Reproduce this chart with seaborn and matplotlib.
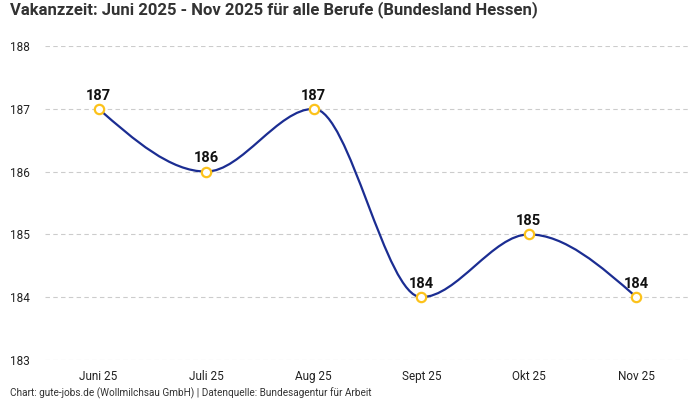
import numpy as np
import pandas as pd
import matplotlib
matplotlib.use("Agg")
import matplotlib.pyplot as plt
from matplotlib.path import Path
from matplotlib.patches import PathPatch
import seaborn as sns

months = ["Juni 25", "Juli 25", "Aug 25", "Sept 25", "Okt 25", "Nov 25"]
values = [187, 186, 187, 184, 185, 184]
yticks = [183, 184, 185, 186, 187, 188]
title = "Vakanzzeit: Juni 2025 - Nov 2025 für alle Berufe (Bundesland Hessen)"
footer = "Chart: gute-jobs.de (Wollmilchsau GmbH) | Datenquelle: Bundesagentur für Arbeit"

sns.set_theme(style="white")
plt.rcParams['font.family'] = ['Roboto', 'DejaVu Sans']

LINE = "#1b2d92"
GOLD = "#fcc21b"

df = pd.DataFrame({"x": np.arange(len(months)), "month": months, "value": values})

fig = plt.figure(figsize=(7, 4), dpi=100)
ax = fig.add_axes([0.064, 0.10, 0.922, 0.785])

# monotone cubic (d3 monotoneX) tangents
xs = df["x"].to_numpy(float)
ys = df["value"].to_numpy(float)
n = len(xs)
t = np.zeros(n)
for i in range(1, n - 1):
    h0 = xs[i] - xs[i - 1]; h1 = xs[i + 1] - xs[i]
    s0 = (ys[i] - ys[i - 1]) / h0; s1 = (ys[i + 1] - ys[i]) / h1
    p = (s0 * h1 + s1 * h0) / (h0 + h1)
    t[i] = (np.sign(s0) + np.sign(s1)) * min(abs(s0), abs(s1), 0.5 * abs(p))
t[0] = (3 * (ys[1] - ys[0]) / (xs[1] - xs[0]) - t[1]) / 2
t[-1] = (3 * (ys[-1] - ys[-2]) / (xs[-1] - xs[-2]) - t[-2]) / 2

verts = [(xs[0], ys[0])]
codes = [Path.MOVETO]
for i in range(n - 1):
    dx = (xs[i + 1] - xs[i]) / 3
    verts += [(xs[i] + dx, ys[i] + dx * t[i]),
              (xs[i + 1] - dx, ys[i + 1] - dx * t[i + 1]),
              (xs[i + 1], ys[i + 1])]
    codes += [Path.CURVE4] * 3
ax.add_patch(PathPatch(Path(verts, codes), facecolor="none", edgecolor=LINE,
                       lw=1.6, zorder=3, capstyle="round", joinstyle="round"))

sns.scatterplot(data=df, x="x", y="value", ax=ax, s=45, color="white",
                edgecolor=GOLD, linewidth=1.6, zorder=4, legend=False)

for xi, yi in zip(xs, ys):
    ax.annotate(f"{int(yi)}", (xi, yi), xytext=(0, 4.5), textcoords="offset points",
                ha="center", va="bottom", fontsize=10.5, fontweight="bold",
                color="#111111", zorder=5)

ax.set_xlim(-0.5, n - 0.5)
ax.set_ylim(183, 188)
ax.set_yticks(yticks)
ax.set_yticklabels([str(v) for v in yticks])
ax.set_xticks(xs)
ax.set_xticklabels(months)
ax.set_xlabel("")
ax.set_ylabel("")
ax.tick_params(axis="both", length=0, labelsize=8.5, colors="#222222")
ax.tick_params(axis="x", pad=7)
for lab in ax.get_yticklabels():
    lab.set_horizontalalignment("left")
ax.yaxis.set_tick_params(pad=25)
ax.grid(axis="y", color="#cccccc", linestyle=(0, (4, 3)), linewidth=0.8)
ax.grid(axis="x", visible=False)
for sp in ax.spines.values():
    sp.set_visible(False)
ax.set_axisbelow(True)

fig.text(10 / 700, 1 - 10 / 400, title, ha="left", va="center",
         fontsize=12, fontweight="bold", color="#333333")
fig.text(10 / 700, 1 - 393 / 400, footer, ha="left", va="center",
         fontsize=7.2, color="#333333")

fig.savefig("out.png", dpi=100)
